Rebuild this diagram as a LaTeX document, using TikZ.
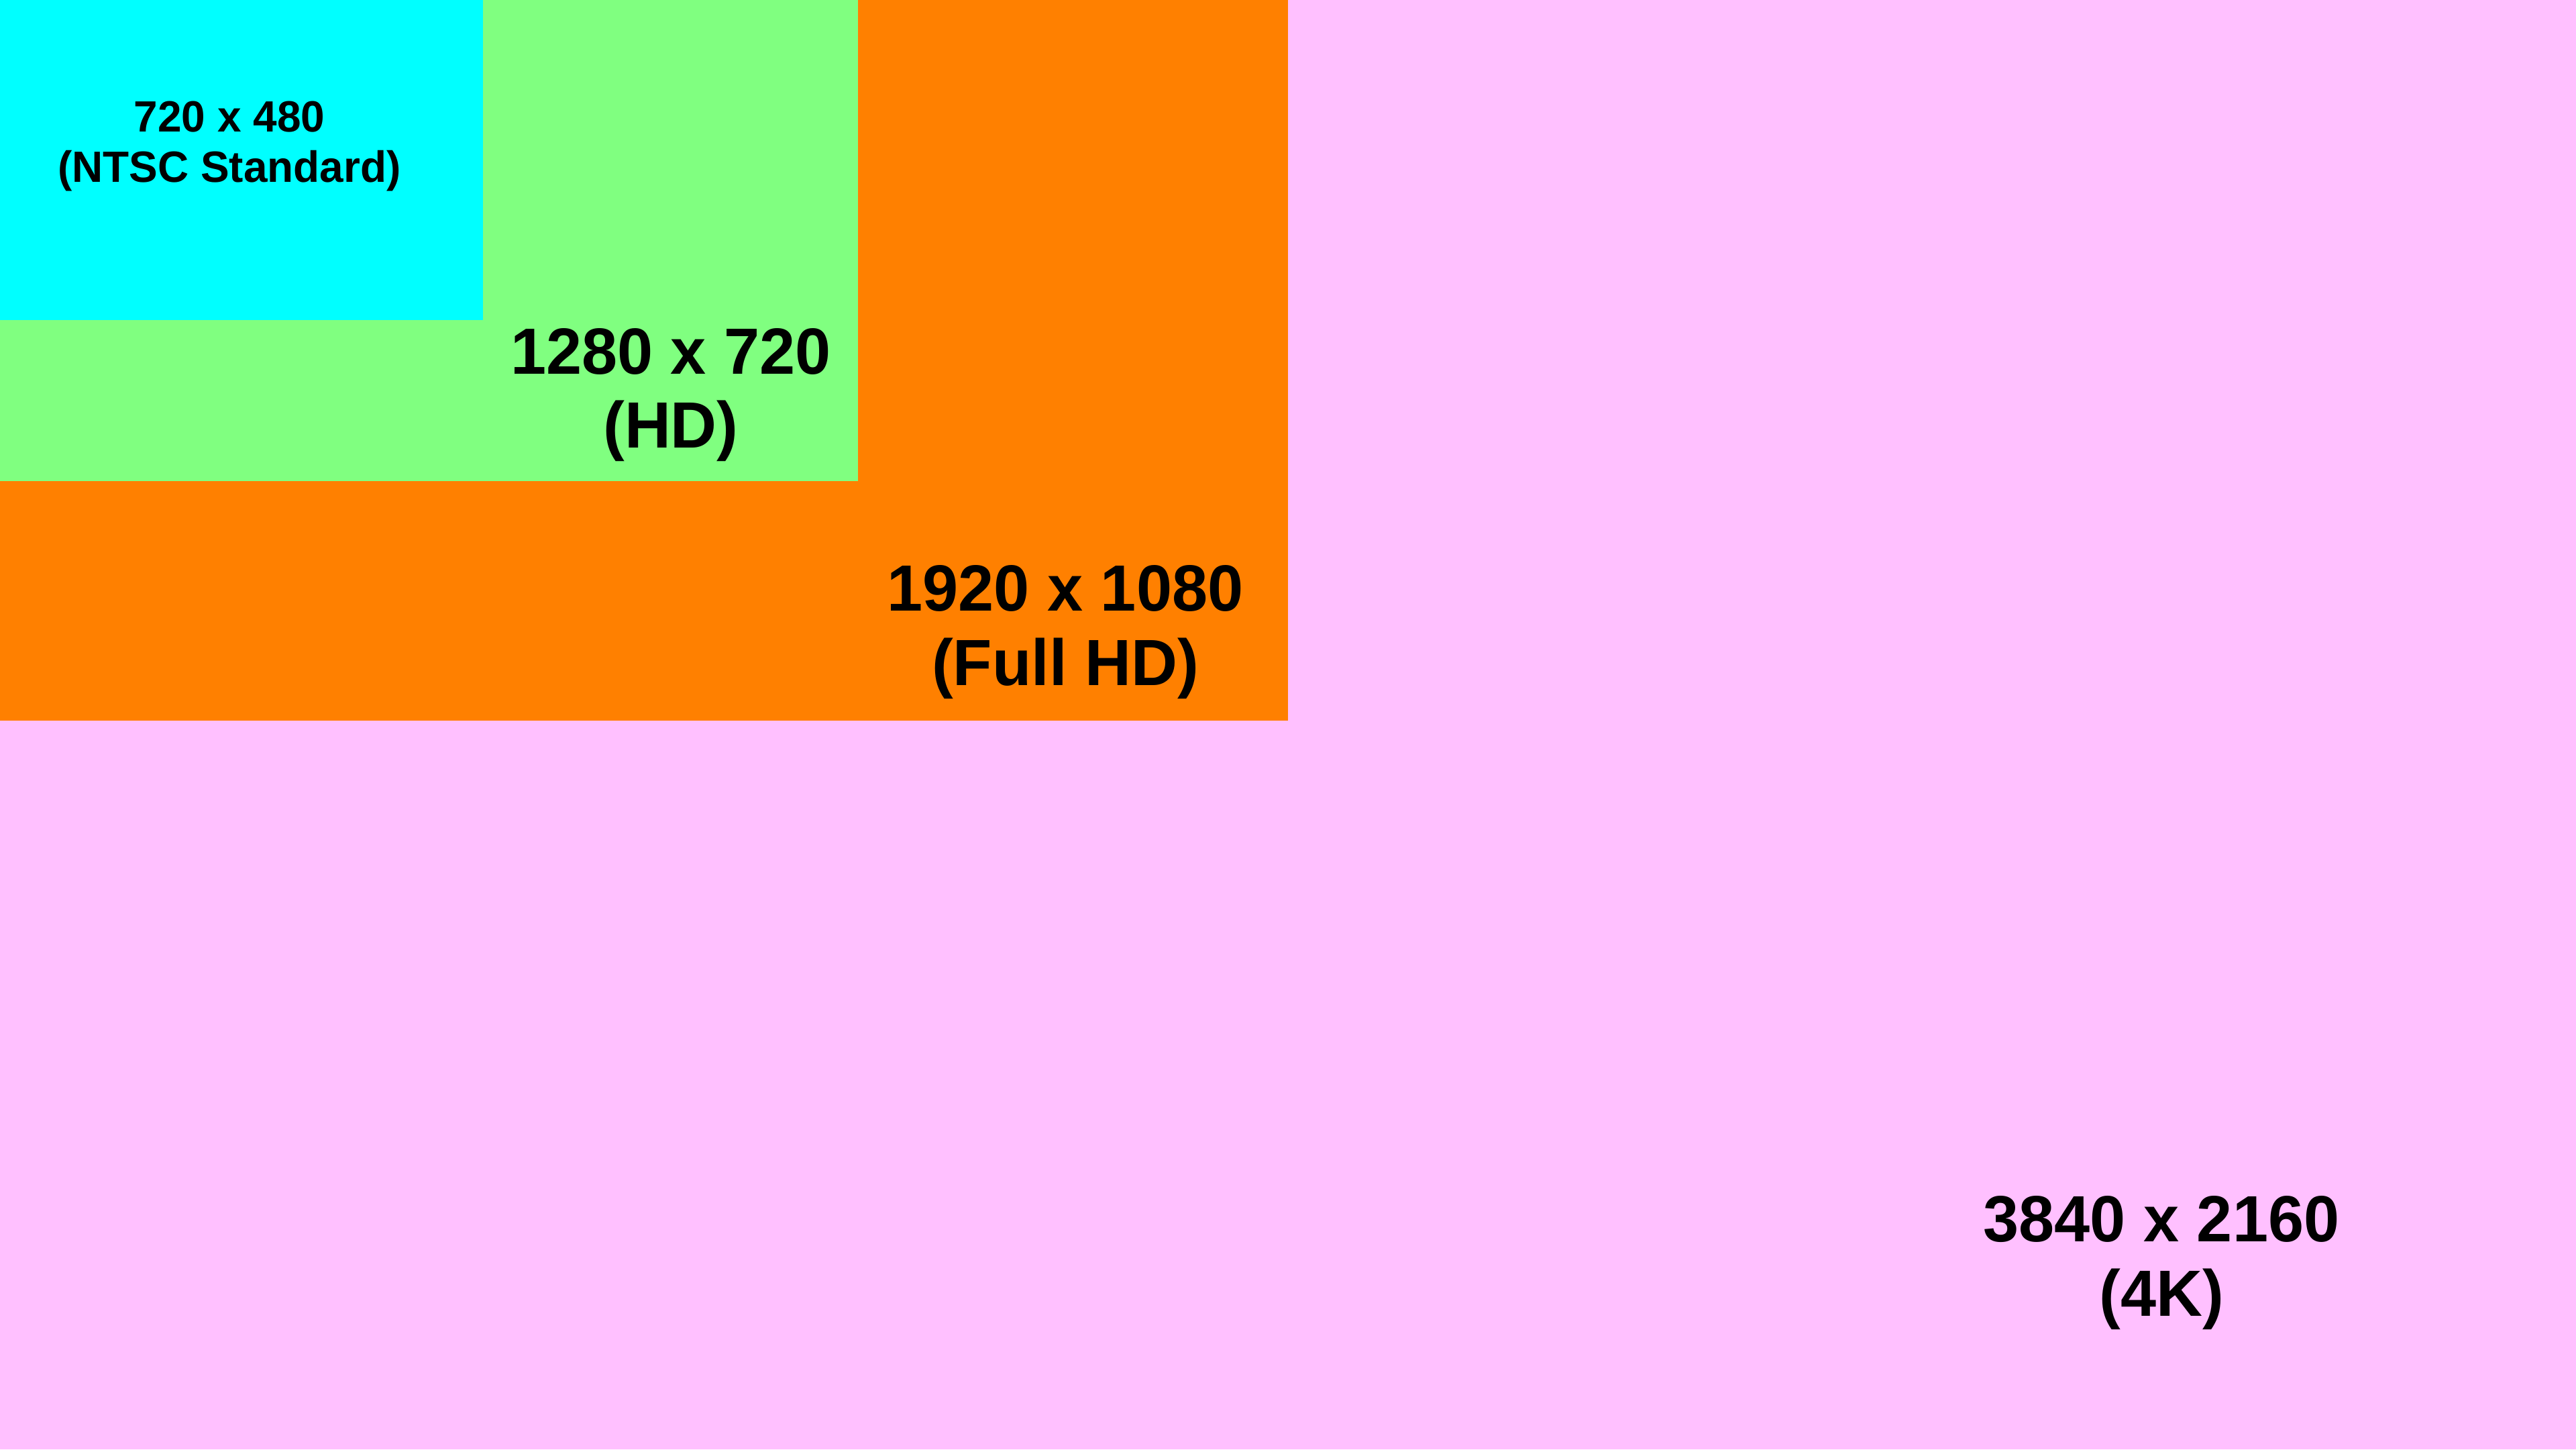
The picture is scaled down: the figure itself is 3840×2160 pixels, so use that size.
\documentclass[tikz,border=0pt]{standalone}
\usepackage{fontspec}
\setmainfont{Liberation Sans}[FakeStretch=0.98]
\definecolor{c4k}{HTML}{FFC0FF}
\definecolor{cfhd}{HTML}{FF8000}
\definecolor{chd}{HTML}{80FF80}
\definecolor{cntsc}{HTML}{00FFFF}
\begin{document}
\begin{tikzpicture}[x=0.01cm,y=-0.01cm,
  big/.style={anchor=base,inner sep=0pt,font=\fontsize{27.7}{31.5}\selectfont\bfseries},
  small/.style={anchor=base,inner sep=0pt,font=\fontsize{18.55}{21.3}\selectfont\bfseries}]
\useasboundingbox (0,0) rectangle (3840,2160);
\fill[c4k] (0,0) rectangle (3840,2160);
\fill[cfhd] (0,0) rectangle (1920,1074);
\fill[chd] (0,0) rectangle (1279,717);
\fill[cntsc] (0,0) rectangle (720,477);
\node[small] (ntscA) at (342,196.7) {720 x 480};
\node[small] (ntscB) at (342,271.7) {(NTSC Standard)};
\node[big] (hdA) at (1000,557) {1280 x 720};
\node[big] (hdB) at (1000,667) {(HD)};
\node[big] (fhdA) at (1588,910) {1920 x 1080};
\node[big] (fhdB) at (1588,1021.7) {(Full HD)};
\node[big] (ukA) at (3222,1850) {3840 x 2160};
\node[big] (ukB) at (3222,1961.7) {(4K)};
\end{tikzpicture}
\end{document}
